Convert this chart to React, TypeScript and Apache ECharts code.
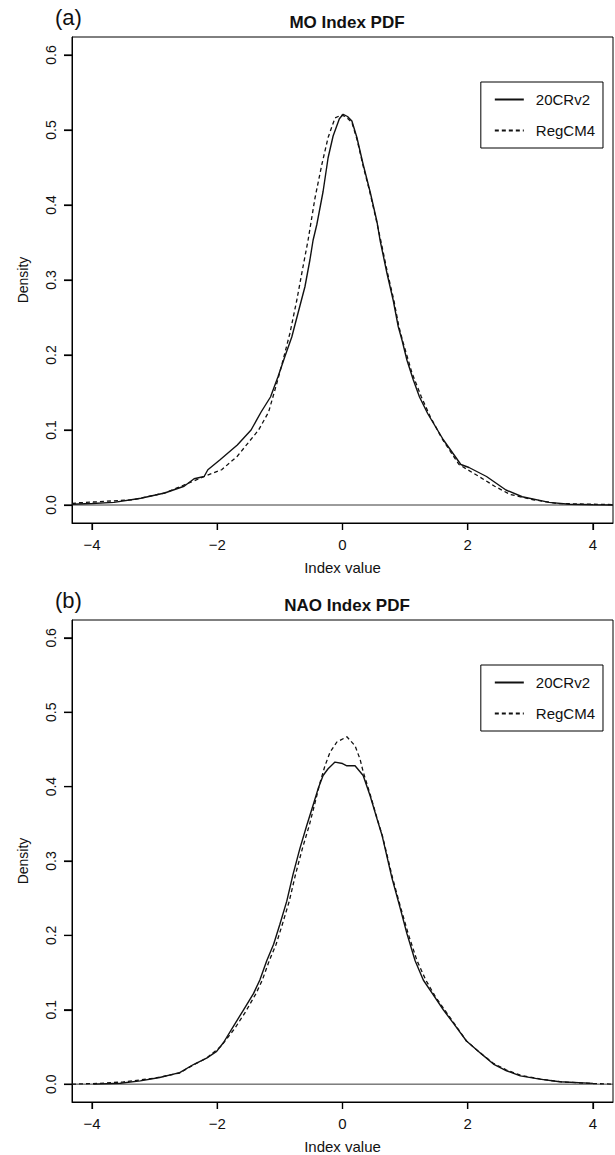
import React, { useEffect, useRef } from "react";
import * as echarts from "echarts";

// ---- Panel (a): MO index PDF ----
const moCRx = [-4.32, -4.0, -3.65, -3.22, -2.84, -2.53, -2.37, -2.21, -2.15, -1.96, -1.68, -1.46, -1.3, -1.15, -1.03, -0.92, -0.81, -0.71, -0.6, -0.52, -0.47, -0.41, -0.31, -0.23, -0.15, -0.05, 0.01, 0.08, 0.15, 0.23, 0.33, 0.44, 0.55, 0.6, 0.71, 0.81, 0.89, 0.95, 1.03, 1.13, 1.23, 1.36, 1.61, 1.89, 2.02, 2.3, 2.61, 2.87, 3.3, 3.62, 4.0, 4.32];
const moCRy = [0.001, 0.002, 0.0035, 0.009, 0.016, 0.025, 0.035, 0.038, 0.047, 0.06, 0.08, 0.1, 0.124, 0.144, 0.171, 0.198, 0.224, 0.256, 0.291, 0.327, 0.353, 0.374, 0.418, 0.463, 0.492, 0.515, 0.521, 0.518, 0.512, 0.49, 0.454, 0.418, 0.378, 0.353, 0.309, 0.273, 0.238, 0.22, 0.193, 0.167, 0.144, 0.122, 0.087, 0.054, 0.05, 0.038, 0.02, 0.011, 0.0035, 0.001, 0.0003, 0.0];
const moRGx = [-4.32, -4.2, -3.34, -2.84, -2.46, -2.21, -1.93, -1.68, -1.34, -1.18, -1.05, -0.95, -0.84, -0.73, -0.63, -0.55, -0.44, -0.33, -0.23, -0.12, -0.02, 0.05, 0.15, 0.23, 0.33, 0.44, 0.55, 0.61, 0.72, 0.82, 0.9, 0.97, 1.11, 1.26, 1.4, 1.6, 1.86, 2.18, 2.43, 2.68, 3.05, 3.43, 4.32];
const moRGy = [0.002, 0.003, 0.007, 0.016, 0.029, 0.038, 0.047, 0.065, 0.1, 0.124, 0.162, 0.193, 0.229, 0.273, 0.318, 0.353, 0.409, 0.454, 0.49, 0.516, 0.52, 0.518, 0.51, 0.488, 0.452, 0.416, 0.376, 0.353, 0.309, 0.273, 0.238, 0.216, 0.176, 0.144, 0.118, 0.087, 0.054, 0.038, 0.025, 0.014, 0.007, 0.002, 0.0005];

// ---- Panel (b): NAO index PDF ----
const naoCRx = [-3.98, -3.55, -3.23, -2.92, -2.6, -2.38, -2.17, -2.01, -1.9, -1.74, -1.58, -1.42, -1.32, -1.21, -1.1, -1.0, -0.89, -0.79, -0.68, -0.57, -0.47, -0.39, -0.31, -0.23, -0.12, 0.0, 0.07, 0.2, 0.33, 0.44, 0.55, 0.63, 0.79, 0.92, 1.03, 1.16, 1.29, 1.45, 1.61, 1.77, 1.98, 2.2, 2.41, 2.62, 2.84, 3.15, 3.47, 4.0];
const naoCRy = [0.0, 0.0013, 0.0044, 0.0089, 0.0155, 0.0264, 0.035, 0.044, 0.056, 0.078, 0.1, 0.122, 0.14, 0.166, 0.188, 0.215, 0.246, 0.282, 0.317, 0.348, 0.375, 0.397, 0.415, 0.424, 0.433, 0.431, 0.428, 0.428, 0.415, 0.388, 0.357, 0.335, 0.277, 0.237, 0.202, 0.166, 0.14, 0.12, 0.1, 0.082, 0.058, 0.042, 0.027, 0.018, 0.0111, 0.0067, 0.0033, 0.001];
const naoRGx = [-4.32, -3.9, -3.5, -3.0, -2.6, -2.38, -2.17, -1.94, -1.72, -1.55, -1.38, -1.28, -1.17, -1.06, -0.96, -0.85, -0.75, -0.64, -0.53, -0.44, -0.36, -0.28, -0.2, -0.09, 0.07, 0.2, 0.28, 0.33, 0.44, 0.55, 0.64, 0.8, 0.93, 1.05, 1.19, 1.33, 1.48, 1.63, 1.78, 1.98, 2.2, 2.41, 2.62, 2.84, 3.15, 3.5, 4.0, 4.32];
const naoRGy = [0.0, 0.001, 0.003, 0.008, 0.015, 0.026, 0.035, 0.051, 0.075, 0.097, 0.122, 0.14, 0.166, 0.188, 0.215, 0.246, 0.282, 0.317, 0.348, 0.378, 0.405, 0.428, 0.446, 0.46, 0.467, 0.455, 0.437, 0.42, 0.39, 0.358, 0.333, 0.277, 0.237, 0.202, 0.166, 0.14, 0.118, 0.1, 0.082, 0.058, 0.042, 0.028, 0.019, 0.012, 0.007, 0.003, 0.0008, 0.0];

const xTicks = [-4, -2, 0, 2, 4];
const yTicks = [0, 0.1, 0.2, 0.3, 0.4, 0.5, 0.6];
const panelLabels = ["(a)", "(b)"];
const panelTitles = ["MO Index PDF", "NAO Index PDF"];
const seriesNames = ["20CRv2", "RegCM4"];

const X_MIN = -4.32;
const X_MAX = 4.32;
const Y_MIN = -0.024;
const Y_MAX = 0.624;

const FONT = '"Liberation Sans Narrow", "Liberation Sans", Arial, sans-serif';

const zip = (xs: number[], ys: number[]) => xs.map((x, i) => [x, ys[i]]);

export default function App() {
  const ref = useRef<HTMLDivElement>(null);
  useEffect(() => {
    document.body.style.margin = "0";
    const chart = echarts.init(ref.current!, null, { renderer: "svg" });
    const gridTops = [37, 620];
    const gridH = 486;
    const xAxis: any[] = [];
    const yAxis: any[] = [];
    const grid: any[] = [];
    const title: any[] = [];
    const legend: any[] = [];
    const series: any[] = [];
    const panels = [
      [zip(moCRx, moCRy), zip(moRGx, moRGy)],
      [zip(naoCRx, naoCRy), zip(naoRGx, naoRGy)],
    ];
    gridTops.forEach((top, i) => {
      grid.push({ left: 72, top, width: 541, height: gridH, show: true, borderColor: "#000", borderWidth: 1 });
      xAxis.push({
        type: "value", gridIndex: i, min: X_MIN, max: X_MAX,
        name: "Index value", nameLocation: "middle", nameGap: 37,
        nameTextStyle: { fontFamily: FONT, fontSize: 15, color: "#111" },
        axisLine: { show: true, onZero: false, lineStyle: { color: "#000", width: 1 } },
        axisTick: { show: true, length: 7, customValues: xTicks, lineStyle: { color: "#000", width: 1.2 } },
        axisLabel: { customValues: xTicks, margin: 14, fontFamily: FONT, fontSize: 15, color: "#111",
          formatter: (v: number) => (v < 0 ? "\u2212" + Math.abs(v) : String(v)) },
        splitLine: { show: false },
      });
      yAxis.push({
        type: "value", gridIndex: i, min: Y_MIN, max: Y_MAX,
        name: "Density", nameLocation: "middle", nameGap: 42, nameRotate: 90,
        nameTextStyle: { fontFamily: FONT, fontSize: 14, color: "#111" },
        axisLine: { show: true, onZero: false, lineStyle: { color: "#000", width: 1 } },
        axisTick: { show: true, length: 8, customValues: yTicks, lineStyle: { color: "#000", width: 1.2 } },
        axisLabel: { customValues: yTicks, rotate: 90, margin: 14, fontFamily: FONT, fontSize: 14, color: "#111",
          formatter: (v: number) => v.toFixed(1) },
        splitLine: { show: false },
      });
      title.push({ text: panelLabels[i], left: 50, top: top - 36, textStyle: { fontFamily: FONT, fontSize: 22, fontWeight: "normal", color: "#111" } });
      title.push({ text: panelTitles[i], left: 342, top: top - 28, textAlign: "center",
        textStyle: { fontFamily: FONT, fontSize: 17, fontWeight: "bold", color: "#111" } });
      legend.push({
        data: seriesNames, orient: "vertical", right: 12, top: top + 45,
        itemWidth: 29, itemHeight: 14, itemGap: 16, padding: [10, 8, 10, 13],
        borderColor: "#000", borderWidth: 1, backgroundColor: "#fff",
        itemStyle: { opacity: 0 },
        textStyle: { fontFamily: FONT, fontSize: 15, color: "#111", padding: [0, 0, 0, 7] },
        selectedMode: false,
      });
      series.push({
        type: "line", name: "zero" + i, xAxisIndex: i, yAxisIndex: i, symbol: "none", silent: true,
        data: [[X_MIN, 0], [X_MAX, 0]], lineStyle: { color: "#222", width: 0.9 }, z: 1,
      });
      series.push({
        type: "line", name: seriesNames[0], xAxisIndex: i, yAxisIndex: i, symbol: "none",
        data: panels[i][0], lineStyle: { color: "#111", width: 1.4, type: "solid" }, itemStyle: { color: "#111" }, z: 3,
      });
      series.push({
        type: "line", name: seriesNames[1], xAxisIndex: i, yAxisIndex: i, symbol: "none",
        data: panels[i][1], lineStyle: { color: "#111", width: 1.3, type: [4, 3] }, itemStyle: { color: "#111" }, z: 2,
      });
    });
    chart.setOption({ animation: false, backgroundColor: "#fff", title, grid, xAxis, yAxis, legend, series });

    // R-style outward tick marks, positioned through the chart's own scales
    const ticks: any[] = [];
    gridTops.forEach((_, i) => {
      const bottomPx = chart.convertToPixel({ gridIndex: i } as any, [0, Y_MIN]) as number[];
      const leftPx = chart.convertToPixel({ gridIndex: i } as any, [X_MIN, 0]) as number[];
      if (!bottomPx || !leftPx) return;
      const yb = bottomPx[1];
      const xl = leftPx[0];
      xTicks.forEach((v) => {
        const p = chart.convertToPixel({ gridIndex: i } as any, [v, 0]) as number[];
        ticks.push({ type: "line", silent: true, z: 10, shape: { x1: p[0], y1: yb, x2: p[0], y2: yb + 7 }, style: { stroke: "#000", lineWidth: 1.2 } });
      });
      yTicks.forEach((v) => {
        const p = chart.convertToPixel({ gridIndex: i } as any, [0, v]) as number[];
        ticks.push({ type: "line", silent: true, z: 10, shape: { x1: xl - 8, y1: p[1], x2: xl, y2: p[1] }, style: { stroke: "#000", lineWidth: 1.2 } });
      });
    });
    chart.setOption({ graphic: ticks });
    return () => chart.dispose();
  }, []);
  return <div ref={ref} style={{ width: 615, height: 1155 }} />;
}
